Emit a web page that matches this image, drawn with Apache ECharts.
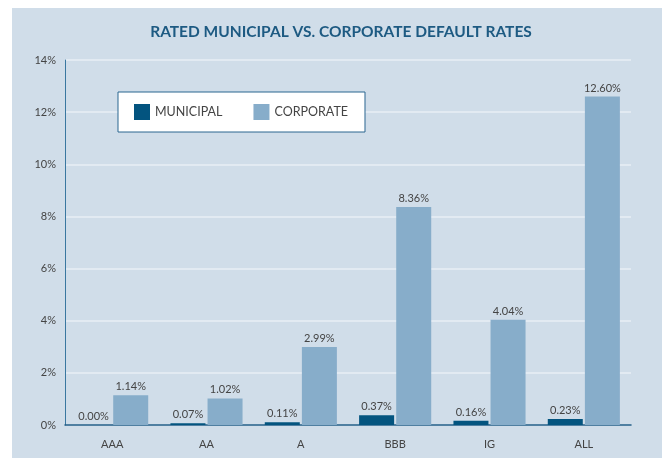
<!DOCTYPE html>
<html>
<head>
<meta charset="utf-8">
<script src="https://cdn.jsdelivr.net/npm/echarts@6/dist/echarts.min.js"></script>
<style>
  html, body { margin: 0; padding: 0; background: #fff; }
  #chart { width: 668px; height: 458px; }
</style>
</head>
<body>
<div id="chart"></div>
<script>
// default rates by rating, in percent
const ratings = ['AAA', 'AA', 'A', 'BBB', 'IG', 'ALL'];
const municipal = [0.00, 0.07, 0.11, 0.37, 0.16, 0.23];
const corporate = [1.14, 1.02, 2.99, 8.36, 4.04, 12.60];
const yTicks = [0, 2, 4, 6, 8, 10, 12, 14];

const chart = echarts.init(document.getElementById('chart'));

const valueLabel = {
  show: true,
  position: 'top',
  distance: 3,
  color: '#444',
  fontSize: 11,
  fontFamily: 'Lato',
  formatter: p => p.value.toFixed(2) + '%'
};

chart.setOption({
  animation: false,
  textStyle: { fontFamily: 'Lato' },
  graphic: [{
    type: 'rect',
    z: -10,
    silent: true,
    shape: { x: 12, y: 8, width: 650, height: 450 },
    style: { fill: '#d0dde9' }
  }],
  title: {
    text: 'RATED MUNICIPAL VS. CORPORATE DEFAULT RATES',
    left: 336,
    textAlign: 'center',
    top: 19,
    textStyle: { color: '#1d5a82', fontSize: 15.5, fontWeight: 'bold', fontFamily: 'Lato' }
  },
  legend: {
    left: 118,
    top: 92,
    orient: 'horizontal',
    backgroundColor: '#fff',
    borderColor: '#2a6690',
    borderWidth: 1,
    borderRadius: 0,
    padding: [12, 17, 12, 16],
    itemWidth: 16,
    itemHeight: 16,
    itemGap: 31,
    icon: 'rect',
    textStyle: { color: '#444', fontSize: 12.5, fontFamily: 'Lato' },
    data: ['MUNICIPAL', 'CORPORATE']
  },
  grid: { left: 65, right: 37, top: 60, bottom: 33 },
  xAxis: {
    type: 'category',
    data: ratings,
    axisLine: { lineStyle: { color: '#1f5c86', width: 1.5 } },
    axisTick: { show: false },
    axisLabel: { color: '#444', fontSize: 11, margin: 14 }
  },
  yAxis: {
    type: 'value',
    min: 0,
    max: 14,
    interval: 2,
    axisLine: { show: true, lineStyle: { color: '#3a77a0', width: 1 } },
    axisTick: { show: false },
    axisLabel: {
      color: '#444',
      fontSize: 11,
      margin: 9,
      formatter: v => yTicks.includes(v) ? v + '%' : ''
    },
    splitLine: { lineStyle: { color: '#e8eef5', width: 1.5 } }
  },
  series: [
    {
      name: 'MUNICIPAL',
      type: 'bar',
      data: municipal,
      barWidth: 35,
      barGap: '6%',
      itemStyle: { color: '#03547f' },
      label: valueLabel
    },
    {
      name: 'CORPORATE',
      type: 'bar',
      data: corporate,
      barWidth: 35,
      itemStyle: { color: '#87adca' },
      label: valueLabel
    }
  ]
});
</script>
</body>
</html>
